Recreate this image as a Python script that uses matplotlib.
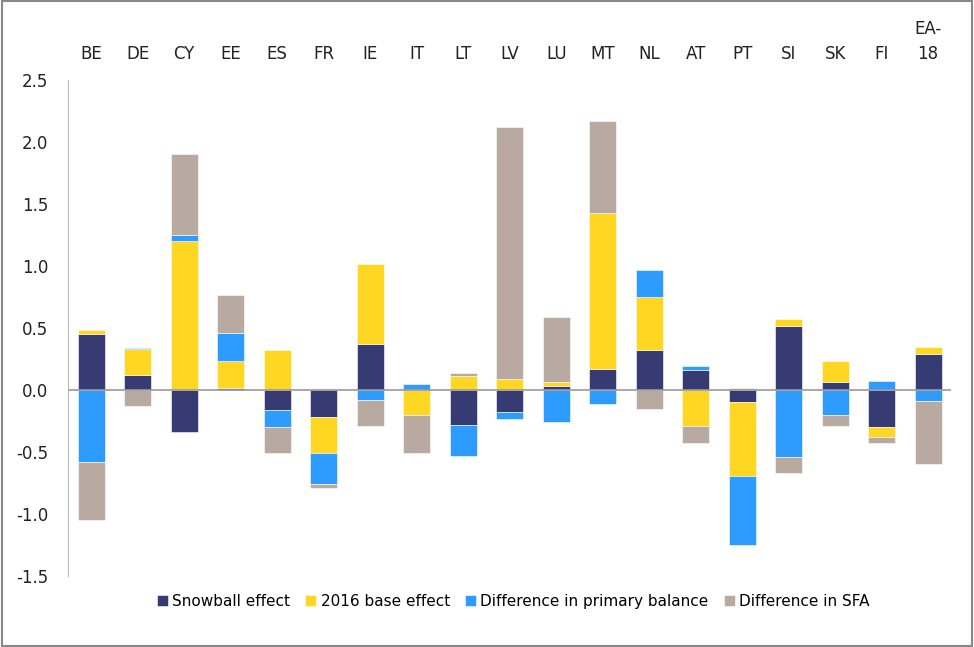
import numpy as np
import matplotlib.pyplot as plt
from matplotlib.patches import Rectangle

plt.rcParams['font.family'] = ['DejaVu Sans']

countries = ['BE', 'DE', 'CY', 'EE', 'ES', 'FR', 'IE', 'IT', 'LT', 'LV',
             'LU', 'MT', 'NL', 'AT', 'PT', 'SI', 'SK', 'FI', 'EA-\n18']

snowball = [0.45, 0.12, -0.34, 0.02, -0.16, -0.22, 0.37, 0.00, -0.28, -0.18,
            0.035, 0.17, 0.32, 0.16, -0.10, 0.52, 0.065, -0.30, 0.29]
base_2016 = [0.03, 0.21, 1.20, 0.21, 0.32, -0.29, 0.65, -0.20, 0.11, 0.09,
             0.03, 1.26, 0.43, -0.29, -0.59, 0.05, 0.17, -0.08, 0.06]
primary = [-0.58, 0.01, 0.05, 0.23, -0.14, -0.25, -0.08, 0.045, -0.25, -0.05,
           -0.26, -0.11, 0.22, 0.03, -0.56, -0.54, -0.20, 0.07, -0.09]
sfa = [-0.47, -0.13, 0.65, 0.31, -0.21, -0.03, -0.21, -0.31, 0.025, 2.03,
       0.52, 0.74, -0.15, -0.14, 0.013, -0.13, -0.09, -0.05, -0.51]

series = [
    ("Snowball effect", snowball, "#363B73"),
    ("2016 base effect", base_2016, "#FFD621"),
    ("Difference in primary balance", primary, "#2E9BFF"),
    ("Difference in SFA", sfa, "#B8A9A1"),
]

fig = plt.figure(figsize=(9.74, 6.47), dpi=100)
ax = fig.add_axes([0.0698, 0.1097, 0.907, 0.7667])

x = np.arange(len(countries))
pos_bottom = np.zeros(len(countries))
neg_bottom = np.zeros(len(countries))
for label, vals, color in series:
    v = np.array(vals)
    bottom = np.where(v >= 0, pos_bottom, neg_bottom)
    ax.bar(x, v, 0.58, bottom=bottom, color=color, label=label,
           edgecolor="white", linewidth=0.4, zorder=2)
    pos_bottom += np.where(v >= 0, v, 0)
    neg_bottom += np.where(v < 0, v, 0)

ax.axhline(0, color="#999999", linewidth=1.2, zorder=3)

ax.set_xlim(-0.5, len(countries) - 0.5)
ax.set_ylim(-1.5, 2.5)
ticks = np.arange(-1.5, 2.51, 0.5)
ax.set_yticks(ticks)
ax.set_yticklabels([f"{t:.1f}" for t in ticks], fontsize=12)
ax.tick_params(axis='y', length=0, pad=14, colors="#222222")

ax.xaxis.tick_top()
ax.set_xticks(x)
ax.set_xticklabels(countries, fontsize=12, linespacing=1.5)
ax.tick_params(axis='x', length=0, pad=12, colors="#222222")

for s in ['top', 'right', 'bottom']:
    ax.spines[s].set_visible(False)
ax.spines['left'].set_color("#BBBBBB")

fig.legend(loc="center", bbox_to_anchor=(0.527, 0.071), ncol=4, frameon=False,
           fontsize=11, handlelength=0.7, handleheight=0.7, handletextpad=0.3,
           columnspacing=1.0)

# outer frame
fig.patches.append(Rectangle((0.002, 0.002), 0.996, 0.996, transform=fig.transFigure,
                             fill=False, edgecolor="#888888", linewidth=1.5))

fig.savefig("out.png", dpi=100)
